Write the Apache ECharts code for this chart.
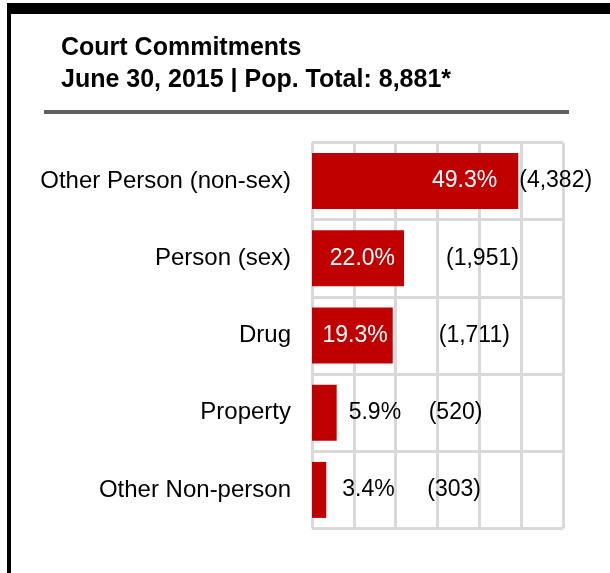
<!DOCTYPE html>
<html>
<head>
<meta charset="utf-8">
<script src="https://cdn.jsdelivr.net/npm/echarts@6/dist/echarts.min.js"></script>
<style>
  html, body { margin: 0; padding: 0; background: #fff; }
  #chart { width: 610px; height: 573px; }
</style>
</head>
<body>
<div id="chart"></div>
<script>
const categories = ['Other Person (non-sex)', 'Person (sex)', 'Drug', 'Property', 'Other Non-person'];
const percents = [49.3, 22.0, 19.3, 5.9, 3.4];
const counts = [4382, 1951, 1711, 520, 303];

// label placement, px from the bar end
const pctGap = [21, 9, 5, 12, 16];
const countGap = [1, 42, 46, 92, 101];

const font = "'Liberation Sans', Arial, sans-serif";

const chart = echarts.init(document.getElementById('chart'));

const pctData = percents.map((v, i) => {
  const inside = v > 15;
  return {
    value: v,
    label: {
      position: inside ? 'insideRight' : 'right',
      distance: pctGap[i],
      color: inside ? '#fff' : '#000'
    }
  };
});

const countData = percents.map((v, i) => ({
  value: v,
  label: { distance: countGap[i] }
}));

chart.setOption({
  animation: false,
  title: {
    text: 'Court Commitments\nJune 30, 2015 | Pop. Total: 8,881*',
    left: 61,
    top: 32,
    padding: 0,
    textStyle: {
      fontFamily: font,
      fontWeight: 'bold',
      fontSize: 25,
      lineHeight: 32,
      color: '#000'
    }
  },
  graphic: [
    { type: 'rect', shape: { x: 7, y: 3, width: 603, height: 11 }, style: { fill: '#000' } },
    { type: 'rect', shape: { x: 7, y: 3, width: 4, height: 570 }, style: { fill: '#000' } },
    { type: 'rect', shape: { x: 44, y: 110, width: 525, height: 4 }, style: { fill: '#5f5f5f' } }
  ],
  grid: { left: 312, top: 142.5, width: 251, height: 386 },
  xAxis: {
    type: 'value',
    min: 0,
    max: 60,
    interval: 10,
    axisLabel: { show: false },
    axisLine: { show: false },
    axisTick: { show: false },
    splitLine: { show: true, lineStyle: { color: '#d9d9d9', width: 3 } }
  },
  yAxis: {
    type: 'category',
    data: categories,
    inverse: true,
    axisLine: { show: false },
    axisTick: { show: false },
    axisLabel: { margin: 21, fontFamily: font, fontSize: 24, color: '#000' },
    splitLine: { show: true, lineStyle: { color: '#d9d9d9', width: 3 } }
  },
  series: [
    {
      type: 'bar',
      data: pctData,
      barWidth: 56,
      itemStyle: { color: '#c00000' },
      label: {
        show: true,
        fontFamily: font,
        fontSize: 23,
        formatter: p => p.value.toFixed(1) + '%'
      }
    },
    {
      type: 'bar',
      data: countData,
      barWidth: 56,
      barGap: '-100%',
      itemStyle: { color: 'rgba(0,0,0,0)' },
      label: {
        show: true,
        position: 'right',
        fontFamily: font,
        fontSize: 23,
        color: '#000',
        formatter: p => '(' + counts[p.dataIndex].toLocaleString('en-US') + ')'
      }
    }
  ]
});
</script>
</body>
</html>
